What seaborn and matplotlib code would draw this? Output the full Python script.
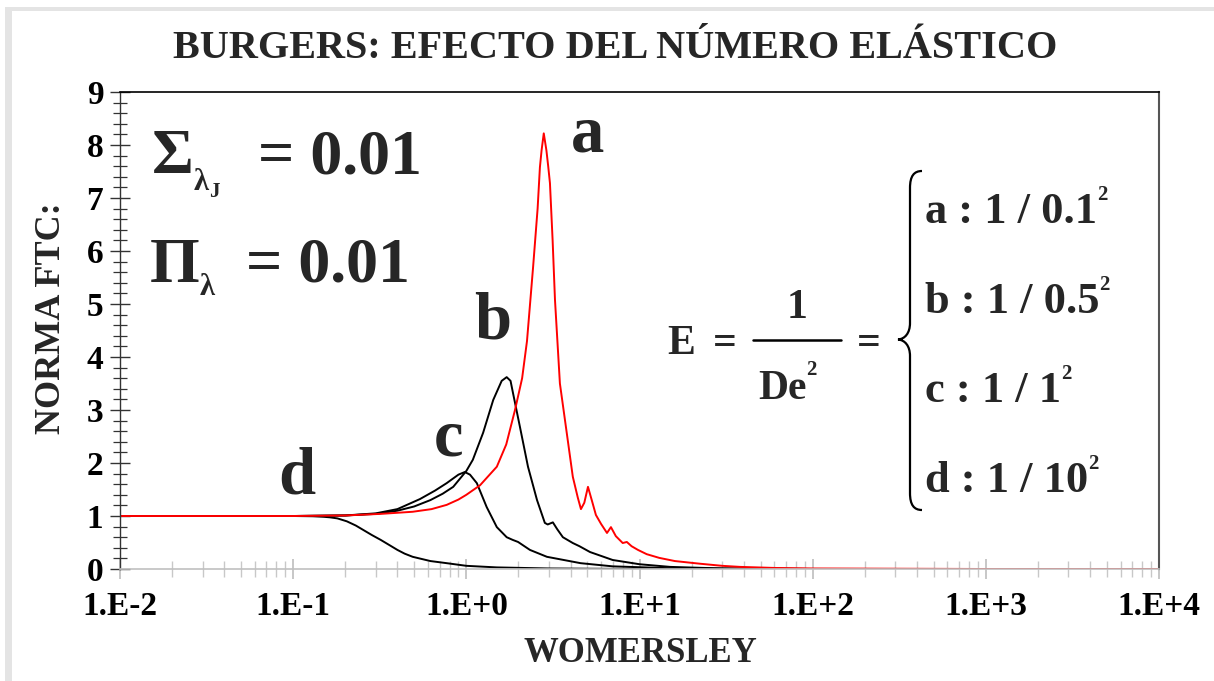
import matplotlib
matplotlib.use("Agg")
import matplotlib.pyplot as plt
import seaborn as sns
import pandas as pd
from matplotlib.path import Path
from matplotlib.patches import PathPatch, Rectangle
from matplotlib.lines import Line2D
from matplotlib.ticker import FixedLocator, FixedFormatter, LogLocator, MultipleLocator, NullFormatter

# ---------------- data ----------------
a_x = [0.01, 0.05, 0.1, 0.2, 0.32, 0.49, 0.63, 0.77, 0.9, 1.0, 1.2, 1.5, 1.7, 1.91, 2.1, 2.24, 2.43, 2.58,
       2.66, 2.72, 2.80, 2.90, 2.97, 3.04, 3.15, 3.25, 3.47, 3.80, 4.12, 4.40, 4.59, 4.80, 5.04,
       5.30, 5.60, 6.0, 6.49, 6.84, 7.3, 8.0, 8.45, 9.0, 9.8, 11.0, 13.0, 16.0, 19.5, 22.3, 30.0,
       38.0, 60.0, 100.0, 1000.0, 10000.0]
a_y = [1.0, 1.0, 1.0, 1.01, 1.04, 1.08, 1.13, 1.21, 1.31, 1.40, 1.58, 1.93, 2.35, 3.0, 3.6, 4.3, 5.7, 6.8,
       7.58, 7.9, 8.22, 7.9, 7.6, 7.28, 6.2, 5.08, 3.5, 2.57, 1.74, 1.35, 1.13, 1.25, 1.55,
       1.30, 1.02, 0.85, 0.68, 0.79, 0.62, 0.49, 0.51, 0.43, 0.36, 0.28, 0.21, 0.15, 0.12, 0.10, 0.06,
       0.04, 0.02, 0.01, 0.0, 0.0]

b_x = [0.01, 0.1, 0.2, 0.30, 0.40, 0.50, 0.62, 0.73, 0.84, 1.0, 1.09, 1.25, 1.43, 1.60, 1.71, 1.80, 1.86, 2.04,
       2.27, 2.56, 2.84, 2.95, 3.16, 3.35, 3.61, 4.12, 4.5, 5.18, 7.0, 10.0, 15.0, 30.0, 100.0, 10000.0]
b_y = [1.0, 1.0, 1.01, 1.04, 1.10, 1.18, 1.30, 1.42, 1.55, 1.85, 2.06, 2.57, 3.19, 3.55, 3.62, 3.55, 3.32, 2.68,
       1.93, 1.30, 0.87, 0.84, 0.88, 0.75, 0.60, 0.49, 0.43, 0.32, 0.17, 0.09, 0.04, 0.01, 0.0, 0.0]

c_x = [0.01, 0.1, 0.2, 0.30, 0.40, 0.54, 0.66, 0.77, 0.90, 0.98, 1.05, 1.15, 1.31, 1.50, 1.71, 1.85, 1.99,
       2.33, 2.92, 4.57, 7.0, 15.0, 100.0, 10000.0]
c_y = [1.0, 1.0, 1.01, 1.05, 1.13, 1.32, 1.48, 1.62, 1.78, 1.83, 1.78, 1.62, 1.17, 0.79, 0.60, 0.55, 0.51,
       0.36, 0.23, 0.11, 0.05, 0.015, 0.0, 0.0]

d_x = [0.01, 0.1, 0.13, 0.15, 0.163, 0.18, 0.204, 0.23, 0.253, 0.285, 0.32, 0.36, 0.40, 0.44, 0.49, 0.62,
       0.77, 1.0, 1.5, 3.0, 10.0, 10000.0]
d_y = [1.0, 1.0, 0.995, 0.985, 0.975, 0.955, 0.90, 0.82, 0.74, 0.64, 0.55, 0.45, 0.36, 0.29, 0.23, 0.15,
       0.11, 0.06, 0.03, 0.01, 0.0, 0.0]

x_ticks = [0.01, 0.1, 1.0, 10.0, 100.0, 1000.0, 10000.0]
x_tick_labels = ["1.E-2", "1.E-1", "1.E+0", "1.E+1", "1.E+2", "1.E+3", "1.E+4"]
y_ticks = [0, 1, 2, 3, 4, 5, 6, 7, 8, 9]

title = "BURGERS: EFECTO DEL NÚMERO ELÁSTICO"
x_label = "WOMERSLEY"
y_label = "NORMA FTC:"
case_lines = [("a : 1 / 0.1", "2"), ("b : 1 / 0.5", "2"), ("c : 1 / 1", "2"), ("d : 1 / 10", "2")]

# ---------------- style ----------------
sns.set_style("white")
FONT = "Liberation Serif"
plt.rcParams["font.family"] = [FONT, "DejaVu Serif"]
plt.rcParams["font.weight"] = "bold"

W, H = 1214, 681
fig = plt.figure(figsize=(W / 100, H / 100), dpi=100)
fig.patch.set_facecolor("white")
ax = fig.add_axes([120 / W, 1 - 569 / H, (1159 - 120) / W, (569 - 92) / H])

series = [(a_x, a_y, "#ff0000"), (b_x, b_y, "black"), (c_x, c_y, "black"), (d_x, d_y, "black")]
for xs, ys, col in series[1:] + series[:1]:
    df = pd.DataFrame({"x": xs, "y": ys})
    sns.lineplot(data=df, x="x", y="y", ax=ax, color=col, lw=1.4, estimator=None, sort=False)

ax.set_xscale("log")
ax.set_xlim(0.01, 1e4)
ax.set_ylim(0, 9)
ax.set_xlabel("")
ax.set_ylabel("")

for side, col, lw in [("top", "black", 1.2), ("right", "#555555", 1.5), ("left", "#333333", 1.0), ("bottom", "#c0c0c0", 1.2)]:
    ax.spines[side].set_visible(True)
    ax.spines[side].set_color(col)
    ax.spines[side].set_linewidth(lw)

ax.xaxis.set_major_locator(FixedLocator(x_ticks))
ax.xaxis.set_major_formatter(FixedFormatter(x_tick_labels))
ax.xaxis.set_minor_locator(LogLocator(base=10, subs=[2, 3, 4, 5, 6, 7, 8, 9], numticks=20))
ax.xaxis.set_minor_formatter(NullFormatter())
ax.yaxis.set_major_locator(FixedLocator(y_ticks))
ax.yaxis.set_minor_locator(MultipleLocator(0.2))

ax.tick_params(axis="both", which="both", bottom=True, left=True, top=False, right=False)
ax.tick_params(axis="x", which="major", direction="inout", length=14, width=1.2, color="#bdbdbd",
               labelsize=24, pad=9, labelcolor="black")
ax.tick_params(axis="x", which="minor", direction="inout", length=11, width=1.0, color="#c8c8c8")
ax.tick_params(axis="y", which="major", direction="inout", length=14, width=1.0, color="#333333",
               labelsize=24, pad=5, labelcolor="black")
ax.tick_params(axis="y", which="minor", direction="inout", length=10, width=0.9, color="#333333")
for lab in ax.get_xticklabels() + ax.get_yticklabels():
    lab.set_fontweight("bold")
    lab.set_family(FONT)

# ---------------- texts ----------------
def ptext(x, y, s, size, ha="left", va="baseline", **kw):
    return fig.text(x / W, 1 - y / H, s, fontsize=size, ha=ha, va=va, fontweight="bold",
                    family=FONT, **kw)

fig.canvas.draw()
renderer = fig.canvas.get_renderer()

def seq(x, y, parts):
    for s, size, dy in parts:
        t = ptext(x, y + dy, s, size)
        bb = t.get_window_extent(renderer)
        x = bb.x1
    return x

ptext(615, 58, title, 29, ha="center")
ptext(640, 662, x_label, 25, ha="center")
ptext(52, 318, y_label, 26, ha="center", va="center", rotation=90)

# Sigma / Pi annotations
seq(152, 173, [("Σ", 46, 0), ("λ", 22, 17), ("J", 15, 24)])
ptext(258, 173, "= 0.01", 46)
seq(150, 282, [("Π", 46, 0), ("λ", 22, 13)])
ptext(246, 282, "= 0.01", 46)

# curve letters
ptext(588, 152, "a", 48, ha="center")
ptext(493, 338, "b", 48, ha="center")
ptext(448, 455, "c", 48, ha="center")
ptext(297, 493, "d", 48, ha="center")

# Equation E = 1/De^2 = { ...
ptext(667, 354, "E", 30)
ptext(725, 354, "=", 30, ha="center")
ptext(797, 318, "1", 30, ha="center")
fig.add_artist(Line2D([753 / W, 841 / W], [1 - 339.5 / H, 1 - 339.5 / H], color="black", lw=1.8))
seq(758, 399, [("De", 30, 0), ("2", 15, -24)])
ptext(869, 354, "=", 30, ha="center")

def P(x, y):
    return (x / W, 1 - y / H)

verts = [P(922, 171), P(914, 171), P(910, 176), P(910, 188),
         P(910, 323),
         P(910, 333), P(905, 339), P(898, 339.5),
         P(905, 340), P(910, 346), P(910, 356),
         P(910, 493),
         P(910, 505), P(914, 510), P(922, 510)]
codes = [Path.MOVETO, Path.CURVE4, Path.CURVE4, Path.CURVE4,
         Path.LINETO,
         Path.CURVE4, Path.CURVE4, Path.CURVE4,
         Path.CURVE4, Path.CURVE4, Path.CURVE4,
         Path.LINETO,
         Path.CURVE4, Path.CURVE4, Path.CURVE4]
fig.add_artist(PathPatch(Path(verts, codes), transform=fig.transFigure, fill=False,
                         edgecolor="black", lw=1.6))

for i, (main, sup) in enumerate(case_lines):
    yb = 223 + i * 89.7
    seq(925, yb, [(main, 32, 0), (sup, 15, -23)])

# light grey frame on the page edge
fig.add_artist(Rectangle((5 / W, 0), 7 / W, 1 - 7 / H, transform=fig.transFigure,
                         facecolor="#e4e4e4", edgecolor="none"))
fig.add_artist(Rectangle((5 / W, 1 - 11 / H), 1, 4 / H, transform=fig.transFigure,
                         facecolor="#e4e4e4", edgecolor="none"))

fig.savefig("out.png", dpi=100, facecolor="white")
